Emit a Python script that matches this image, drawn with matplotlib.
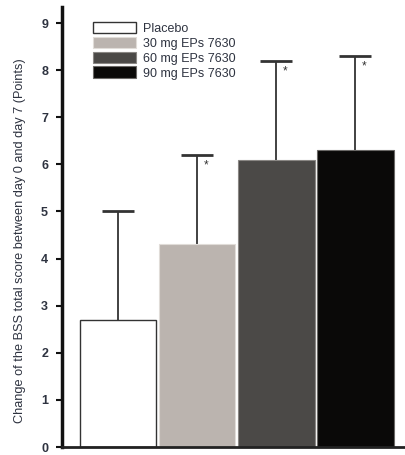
import matplotlib
matplotlib.use("Agg")
import matplotlib.pyplot as plt
import numpy as np

groups = ["Placebo", "30 mg EPs 7630", "60 mg EPs 7630", "90 mg EPs 7630"]
means = [2.7, 4.3, 6.1, 6.3]
sd_upper = [2.3, 1.9, 2.1, 2.0]
significant = [False, True, True, True]
colors = ["#ffffff", "#bbb4af", "#4b4947", "#0a0908"]
edges = ["#333333", "#e0dcd8", "#8a8784", "#6a6866"]
ytick_vals = list(range(0, 10))

plt.rcParams["font.family"] = ["Liberation Sans", "DejaVu Sans"]
text_col = "#2e3340"

fig = plt.figure(figsize=(4.05, 4.55), dpi=100)
ax = fig.add_axes([62 / 405, 8 / 455, 343 / 405, 440 / 455])

x = np.arange(len(groups))
bars = ax.bar(x, means, width=0.97, color=colors, edgecolor=edges,
              linewidth=0.8, zorder=2)
bars[0].set_linewidth(1.0)

# upper error bars only (no cap at the bar top)
tops = np.array(means) + np.array(sd_upper)
ax.vlines(x, means, tops, color="#333333", linewidth=1.3, zorder=1)
ax.hlines(tops, x - 0.2, x + 0.2, color="#333333", linewidth=2.0, zorder=1)

for xi, t, sig in zip(x, tops, significant):
    if sig:
        ax.text(xi + 0.11, t - 0.1, "*", ha="center", va="top",
                fontsize=8.5, color="#333333")

ax.set_xlim(-0.71, 3.63)
ax.set_ylim(0, 9.34)
ax.set_yticks(ytick_vals)
ax.set_yticklabels([str(v) for v in ytick_vals], fontsize=9,
                   fontweight="bold", color=text_col)
ax.set_xticks([])
ax.tick_params(axis="y", direction="out", length=4, width=1.5,
               color="#111111", pad=6)

for side in ["top", "right"]:
    ax.spines[side].set_visible(False)
ax.spines["left"].set_linewidth(2.5)
ax.spines["left"].set_color("#111111")
ax.spines["bottom"].set_linewidth(2.0)
ax.spines["bottom"].set_color("#222222")

ax.set_ylabel("Change of the BSS total score between day 0 and day 7 (Points)",
              fontsize=9.2, color=text_col)
ax.yaxis.set_label_coords(-0.105, 0.468)

leg = ax.legend(bars, groups, loc="upper left",
                bbox_to_anchor=(0.075, 0.978), frameon=False, fontsize=9,
                handlelength=3.45, handleheight=1.05, labelspacing=0.15,
                handletextpad=0.6, borderaxespad=0)
for t in leg.get_texts():
    t.set_color(text_col)

fig.savefig("out.png", dpi=100)
